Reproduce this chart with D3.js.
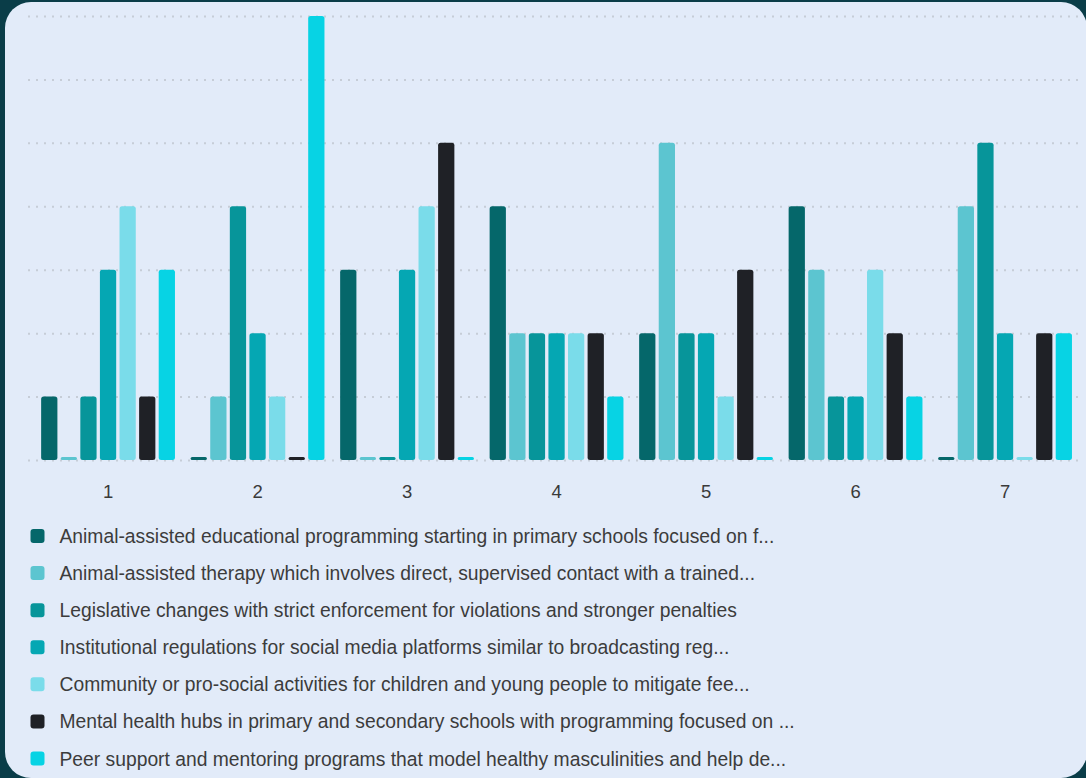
<!DOCTYPE html>
<html>
<head>
<meta charset="utf-8">
<script src="https://cdn.jsdelivr.net/npm/d3@7"></script>
<style>
  html, body { margin: 0; padding: 0; background: #0a3d48; }
  svg { display: block; }
</style>
</head>
<body>
<svg id="chart" width="1086" height="778"></svg>
<script>
const groups = ["1", "2", "3", "4", "5", "6", "7"];
const seriesNames = [
  "Animal-assisted educational programming starting in primary schools focused on f...",
  "Animal-assisted therapy which involves direct, supervised contact with a trained...",
  "Legislative changes with strict enforcement for violations and stronger penalties",
  "Institutional regulations for social media platforms similar to broadcasting reg...",
  "Community or pro-social activities for children and young people to mitigate fee...",
  "Mental health hubs in primary and secondary schools with programming focused on ...",
  "Peer support and mentoring programs that model healthy masculinities and help de..."
];
const seriesColors = ["#05676a", "#5cc5d0", "#07959a", "#05a7b3", "#7adcea", "#1f2126", "#07d3e4"];
// values per series, one entry per group
const s1 = [1, 0, 3, 4, 2, 4, 0];
const s2 = [0, 1, 0, 2, 5, 3, 4];
const s3 = [1, 4, 0, 2, 2, 1, 5];
const s4 = [3, 2, 3, 2, 2, 1, 2];
const s5 = [4, 1, 4, 2, 1, 3, 0];
const s6 = [1, 0, 5, 2, 3, 2, 2];
const s7 = [3, 7, 0, 1, 0, 1, 2];
const seriesValues = [s1, s2, s3, s4, s5, s6, s7];
const yTicks = [0, 1, 2, 3, 4, 5, 6, 7];

const svg = d3.select("#chart");
const FONT = "'Liberation Sans', Arial, Helvetica, sans-serif";

// panel
svg.append("rect")
  .attr("x", 5).attr("y", 2)
  .attr("width", 1082).attr("height", 776)
  .attr("rx", 26).attr("ry", 26)
  .attr("fill", "#e2ebf9");

const x0 = d3.scaleBand().domain(groups).range([33.3, 1079.8]).padding(0);
const x1 = d3.scaleBand().domain(d3.range(seriesNames.length))
  .range([0, x0.bandwidth()]).paddingInner(0.17).paddingOuter(0.4);
const y = d3.scaleLinear().domain([0, 7]).range([460, 16]);

// gridlines
const gy = svg.append("g").attr("transform", "translate(1078,0)")
  .call(d3.axisRight(y).tickValues(yTicks).tickSize(-1050).tickFormat(""));
gy.select(".domain").remove();
gy.selectAll(".tick line")
  .attr("stroke", "#c6cdd7")
  .attr("stroke-width", 2)
  .attr("stroke-dasharray", "2,6");

// bars
const data = [];
groups.forEach((g, gi) => {
  seriesValues.forEach((vals, si) => {
    data.push({ g, si, v: vals[gi] });
  });
});

const minH = 3;
svg.append("g").selectAll("rect.bar")
  .data(data)
  .join("rect")
  .attr("class", "bar")
  .attr("x", d => x0(d.g) + x1(d.si))
  .attr("width", x1.bandwidth())
  .attr("y", d => Math.min(y(d.v), y(0) - minH))
  .attr("height", d => Math.max(y(0) - y(d.v), minH))
  .attr("rx", d => d.v === 0 ? 1.5 : 2.5)
  .attr("fill", d => seriesColors[d.si]);

// x axis labels
const gx = svg.append("g").attr("transform", "translate(0,460)")
  .call(d3.axisBottom(x0).tickSize(0).tickPadding(25));
gx.select(".domain").remove();
gx.selectAll("text")
  .attr("font-family", FONT)
  .attr("font-size", 18.5)
  .attr("fill", "#3a3a3a");

// legend
const legend = svg.append("g");
const rowY = d3.scaleLinear().domain([0, 6]).range([536.5, 759]);
const items = legend.selectAll("g.item")
  .data(seriesNames)
  .join("g")
  .attr("class", "item")
  .attr("transform", (d, i) => `translate(0,${rowY(i)})`);
items.append("rect")
  .attr("x", 30.5).attr("y", -7.5)
  .attr("width", 14).attr("height", 14)
  .attr("rx", 3)
  .attr("fill", (d, i) => seriesColors[i]);
items.append("text")
  .attr("x", 59.5).attr("y", 6.5)
  .attr("font-family", FONT)
  .attr("font-size", 19.3)
  .attr("fill", "#3c3c3c")
  .text(d => d);
</script>
</body>
</html>
